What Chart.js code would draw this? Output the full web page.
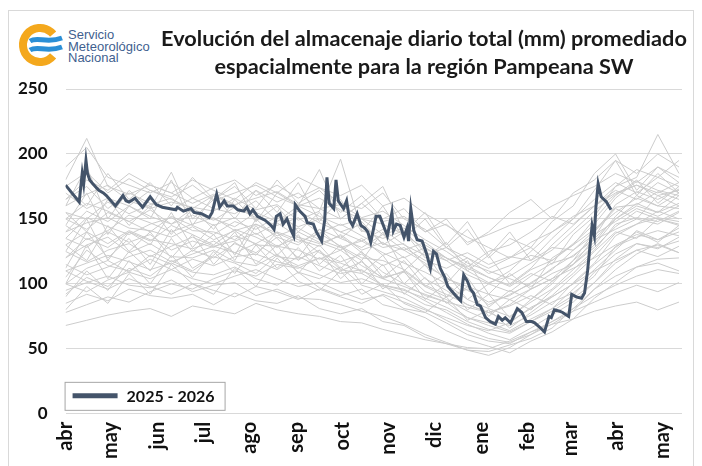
<!DOCTYPE html>
<html>
<head>
<meta charset="utf-8">
<script src="https://cdn.jsdelivr.net/npm/chart.js@4.4.1/dist/chart.umd.min.js"></script>
<style>
  body { margin: 0; width: 702px; height: 466px; overflow: hidden; background: #fff; position: relative; }
  #frame { position: absolute; left: 8px; top: 10px; width: 684px; height: 470px; border: 1px solid #d9d9d9; }
  #logo { position: absolute; left: 18px; top: 22px; }
  #logoText { position: absolute; left: 68px; top: 29px; font: 13px "Liberation Sans", Arial, sans-serif; line-height: 11.5px; color: #3f5f8f; }
  #title { position: absolute; left: 154px; width: 540px; top: 24px; text-align: center; font: bold 21.7px Lato, sans-serif; line-height: 28px; color: #1a1a1a; }
  #chart { position: absolute; left: 0; top: 0; }
</style>
</head>
<body>
<div id="frame"></div>
<canvas id="logo" width="48" height="46"></canvas>
<div id="logoText">Servicio<br>Meteorológico<br>Nacional</div>
<div id="title">Evolución del almacenaje diario total (mm) promediado<br>espacialmente para la región Pampeana SW</div>
<canvas id="chart" width="702" height="467"></canvas>
<script>
// x axis: days counted from 1 April
const monthLabels = ["abr", "may", "jun", "jul", "ago", "sep", "oct", "nov", "dic", "ene", "feb", "mar", "abr", "may"];
const monthStartDays = [0, 30, 61, 91, 122, 153, 183, 214, 244, 275, 306, 334, 365, 395];
const yTicks = [0, 50, 100, 150, 200, 250];

// current season
const currentLabel = "2025 - 2026";
const currentDays = [0, 9, 11, 12, 13.5, 14.5, 16, 18, 22, 25, 27, 33, 38, 40, 42, 46, 48, 51, 56, 60, 64, 73, 74, 78, 83, 85, 90, 95, 97, 100,
  102, 105, 107, 111, 114, 118, 120, 122, 124, 127, 132, 136, 138, 139.5, 142, 144, 146.5, 149, 151, 152, 155, 158.5, 160, 164, 166, 169.5, 171.5, 173, 174.5, 177.5,
  179, 180.5, 184, 186, 188, 190, 193, 195.5, 198, 200, 202, 205.5, 208, 211, 213, 216, 217, 219, 221.5, 224, 226, 227, 228.5, 230.5, 232.7, 236, 239, 241.5, 243.5, 245.5,
  248, 251, 253, 256, 259, 261.5, 263.5, 266, 268, 270, 272.5, 274.5, 278, 281, 284.5, 286.5, 289, 291, 294.5, 299, 302, 305, 308.5, 310.5, 313.5, 317, 320, 321.5, 323.5, 327,
  329, 333, 335, 338, 341.5, 343.5, 345.5, 347, 348.5, 350, 351, 352.5, 354.5, 358, 361];
const currentValues = [176, 163, 185, 177, 195, 185, 180, 177, 172, 170, 168, 160, 168, 164, 163, 166, 163, 159, 167, 161, 159, 157, 159, 156, 158, 155, 154, 151, 155, 169,
  159, 164, 160, 160, 157, 156, 159, 154, 157, 152, 149, 145, 142, 152, 154, 146, 150, 142, 137, 161, 156, 152, 147, 146, 140, 133, 149, 182, 162, 158,
  180, 164, 158, 164, 149, 145, 154, 145, 143, 140, 132, 152, 152, 143, 137, 155, 141, 146, 145, 136, 143, 133, 158, 141, 134, 133, 123, 112, 125, 123,
  112, 105, 98, 94, 90, 87, 107, 102, 96, 93, 84, 83, 74, 71, 69, 75, 72, 74, 70, 81, 78, 71, 71, 70, 67, 63, 75, 74, 80, 79,
  78, 75, 92, 90, 89, 93, 110, 128, 145, 137, 159, 177, 167, 163, 157];

// historical seasons (grey), sampled every 14 days
const histDays = [0, 14, 28, 42, 56, 70, 84, 98, 112, 126, 140, 154, 168, 182, 196, 210, 224, 238, 252, 266, 280, 294, 308, 322, 336, 350, 364, 378, 392, 406];
const h01 = [190, 205, 182, 176, 170, 178, 166, 174, 180, 168, 176, 166, 174, 162, 158, 170, 150, 142, 128, 120, 112, 120, 128, 115, 138, 152, 175, 182, 215, 185];
const h02 = [165, 175, 158, 170, 162, 157, 166, 158, 154, 164, 148, 156, 147, 140, 146, 131, 126, 116, 104, 98, 92, 88, 96, 104, 118, 132, 152, 168, 160, 158];
const h03 = [150, 162, 156, 148, 157, 146, 153, 145, 151, 138, 147, 136, 131, 137, 124, 114, 121, 104, 95, 84, 78, 83, 91, 84, 101, 116, 137, 146, 156, 150];
const h04 = [140, 147, 151, 143, 141, 136, 144, 134, 141, 130, 129, 136, 124, 117, 123, 109, 100, 91, 86, 74, 70, 64, 73, 81, 96, 111, 126, 141, 134, 143];
const h05 = [130, 140, 131, 141, 134, 131, 127, 133, 124, 131, 121, 119, 126, 111, 108, 99, 96, 87, 78, 69, 62, 57, 66, 76, 86, 101, 119, 131, 127, 136];
const h06 = [120, 130, 136, 124, 131, 121, 120, 126, 117, 114, 123, 109, 104, 113, 99, 94, 89, 81, 72, 64, 58, 55, 61, 69, 79, 96, 111, 123, 131, 124];
const h07 = [110, 116, 122, 117, 111, 116, 109, 107, 113, 104, 99, 109, 97, 91, 96, 84, 80, 74, 64, 57, 52, 47, 56, 63, 73, 89, 101, 113, 119, 120];
const h08 = [95, 101, 106, 99, 97, 103, 94, 99, 101, 91, 96, 89, 88, 84, 79, 75, 69, 61, 55, 49, 48, 53, 58, 66, 81, 91, 99, 106, 111, 108];
const h09 = [85, 92, 87, 96, 91, 89, 92, 84, 93, 87, 85, 91, 81, 77, 81, 71, 68, 59, 54, 49, 45, 51, 61, 71, 79, 86, 93, 99, 94, 101];
const h10 = [68, 72, 76, 79, 81, 75, 83, 80, 77, 85, 80, 77, 75, 71, 70, 65, 61, 57, 54, 51, 50, 56, 63, 69, 73, 79, 83, 86, 80, 86];
const h11 = [175, 186, 170, 181, 172, 167, 176, 164, 170, 176, 167, 160, 166, 157, 150, 146, 138, 127, 120, 110, 101, 106, 116, 126, 141, 156, 169, 176, 170, 178];
const h12 = [155, 150, 163, 154, 161, 166, 155, 149, 159, 151, 145, 151, 139, 146, 137, 128, 131, 114, 105, 95, 86, 91, 101, 111, 126, 141, 159, 161, 171, 165];
const h13 = [145, 134, 141, 153, 147, 140, 146, 151, 141, 146, 137, 143, 134, 128, 133, 124, 116, 109, 100, 88, 81, 75, 86, 96, 111, 126, 146, 151, 148, 156];
const h14 = [125, 117, 126, 131, 121, 129, 136, 129, 133, 139, 129, 126, 119, 126, 114, 105, 109, 94, 88, 79, 72, 68, 76, 86, 93, 106, 129, 136, 141, 137];
const h15 = [105, 126, 114, 110, 119, 111, 119, 114, 121, 123, 117, 113, 107, 101, 104, 98, 93, 84, 80, 71, 65, 62, 71, 79, 89, 101, 116, 126, 121, 129];
const h16 = [160, 169, 176, 164, 158, 163, 159, 156, 166, 157, 161, 149, 156, 196, 141, 135, 141, 124, 118, 107, 100, 94, 106, 116, 121, 136, 161, 171, 165, 173];
const h17 = [135, 151, 144, 138, 146, 151, 141, 140, 134, 146, 139, 132, 139, 129, 120, 118, 111, 99, 92, 84, 78, 71, 81, 91, 106, 121, 139, 146, 151, 148];
const h18 = [115, 107, 113, 121, 126, 117, 123, 129, 124, 118, 111, 121, 114, 108, 111, 99, 95, 89, 82, 74, 68, 63, 71, 81, 91, 109, 123, 131, 128, 133];
const h19 = [180, 212, 175, 169, 176, 170, 162, 169, 161, 166, 171, 161, 158, 161, 151, 156, 145, 134, 125, 114, 105, 99, 111, 118, 131, 146, 166, 179, 172, 168];
const h20 = [100, 94, 103, 109, 104, 111, 104, 100, 106, 111, 104, 98, 101, 94, 88, 91, 81, 78, 70, 61, 56, 54, 63, 71, 81, 96, 106, 113, 116, 110];
const h21 = [135, 128, 140, 132, 138, 126, 133, 128, 137, 131, 140, 134, 129, 138, 126, 132, 120, 128, 118, 124, 115, 121, 118, 128, 126, 138, 148, 158, 152, 160];
const h22 = [120, 135, 128, 140, 133, 145, 138, 130, 142, 136, 128, 140, 132, 126, 135, 122, 128, 118, 112, 120, 108, 114, 122, 118, 130, 142, 155, 166, 160, 170];
const h23 = [100, 112, 118, 109, 122, 115, 126, 120, 131, 124, 136, 130, 142, 135, 128, 138, 126, 132, 120, 113, 125, 130, 140, 152, 146, 160, 170, 176, 168, 172];
const h24 = [170, 158, 166, 160, 172, 165, 158, 168, 160, 172, 163, 170, 158, 150, 162, 148, 152, 140, 146, 132, 138, 145, 150, 160, 168, 175, 185, 178, 190, 182];
const h25 = [92, 105, 98, 112, 106, 118, 110, 121, 116, 108, 122, 114, 120, 110, 117, 104, 110, 98, 90, 96, 84, 92, 100, 112, 122, 134, 142, 150, 146, 155];
const h26 = [150, 142, 155, 148, 140, 152, 145, 138, 148, 142, 152, 144, 150, 140, 133, 142, 130, 122, 128, 116, 110, 104, 98, 108, 115, 128, 144, 156, 150, 146];
const h27 = [78, 84, 90, 86, 94, 100, 96, 104, 110, 106, 115, 112, 120, 116, 110, 104, 98, 92, 86, 82, 78, 84, 96, 104, 112, 120, 130, 138, 134, 140];
const h28 = [165, 180, 172, 185, 176, 170, 180, 172, 165, 178, 170, 182, 174, 168, 176, 160, 166, 154, 145, 136, 128, 120, 132, 140, 152, 160, 175, 188, 182, 195];
const h29 = [110, 102, 96, 104, 98, 92, 100, 95, 90, 98, 94, 88, 96, 90, 85, 92, 86, 80, 74, 68, 64, 70, 82, 90, 100, 110, 118, 126, 130, 124];
const h30 = [140, 156, 148, 160, 152, 146, 158, 150, 144, 155, 148, 160, 152, 145, 150, 138, 143, 130, 120, 112, 105, 98, 108, 102, 115, 130, 150, 160, 155, 162];
const h31 = [160, 190, 150, 172, 158, 186, 150, 165, 178, 148, 170, 160, 188, 150, 162, 175, 140, 155, 130, 148, 122, 140, 118, 135, 150, 172, 195, 168, 185, 170];
const h32 = [125, 150, 118, 140, 130, 155, 128, 146, 122, 150, 135, 120, 142, 128, 118, 140, 110, 125, 100, 118, 92, 108, 96, 120, 130, 150, 168, 180, 162, 175];
const h33 = [100, 130, 104, 125, 110, 135, 112, 122, 140, 115, 130, 108, 126, 104, 118, 96, 110, 88, 100, 80, 92, 74, 88, 100, 118, 140, 158, 150, 168, 160];
const h34 = [145, 170, 138, 160, 150, 180, 145, 168, 150, 172, 155, 178, 148, 165, 140, 160, 135, 150, 128, 142, 120, 135, 128, 148, 160, 185, 200, 172, 190, 178];
const h35 = [80, 98, 85, 108, 92, 115, 100, 92, 112, 98, 120, 102, 95, 110, 92, 100, 85, 78, 90, 72, 80, 66, 78, 90, 100, 115, 128, 140, 132, 145];
const h36 = [175, 160, 185, 165, 178, 160, 182, 165, 175, 158, 180, 162, 172, 155, 168, 150, 158, 140, 150, 130, 140, 155, 165, 150, 170, 180, 195, 185, 200, 190];
const h37 = [130, 118, 145, 125, 140, 120, 138, 115, 132, 122, 140, 118, 130, 112, 125, 105, 118, 98, 108, 88, 100, 110, 125, 140, 150, 165, 178, 170, 182, 175];
const h38 = [112, 140, 120, 135, 115, 142, 125, 138, 118, 145, 122, 138, 115, 130, 108, 122, 100, 115, 90, 105, 82, 95, 88, 102, 115, 135, 150, 162, 155, 168];
const h39 = [155, 140, 165, 145, 160, 138, 158, 142, 165, 148, 160, 140, 155, 135, 148, 130, 140, 120, 132, 110, 122, 100, 112, 130, 145, 160, 172, 165, 178, 170];
const h40 = [90, 110, 95, 118, 100, 122, 105, 125, 108, 130, 112, 128, 110, 122, 100, 115, 92, 105, 85, 98, 75, 88, 80, 95, 108, 125, 140, 135, 150, 145];
const historical = [h01, h02, h03, h04, h05, h06, h07, h08, h09, h10, h11, h12, h13, h14, h15, h16, h17, h18, h19, h20,
  h21, h22, h23, h24, h25, h26, h27, h28, h29, h30, h31, h32, h33, h34, h35, h36, h37, h38, h39, h40];

// logo
(function drawLogo() {
  const c = document.getElementById("logo").getContext("2d");
  c.lineWidth = 8;
  c.strokeStyle = "#f4a81d";
  c.beginPath();
  c.arc(22, 23, 17, Math.PI * 0.22, Math.PI * 1.78);
  c.stroke();
  c.strokeStyle = "#2b8fd6";
  c.lineWidth = 5;
  [18, 27].forEach(y => {
    c.beginPath();
    c.moveTo(12, y + 1);
    c.bezierCurveTo(20, y - 4, 28, y + 4, 44, y - 2);
    c.stroke();
  });
})();

const toPoints = (days, vals) => days.map((d, i) => ({ x: d, y: vals[i] }));

const datasets = [{
  label: currentLabel,
  data: toPoints(currentDays, currentValues),
  borderColor: "#44546a",
  borderWidth: 3,
  pointRadius: 0,
  tension: 0,
  order: 0
}].concat(historical.map((vals, i) => ({
  label: "h" + (i + 1),
  data: toPoints(histDays, vals),
  borderColor: "#cccccc",
  borderWidth: 1,
  pointRadius: 0,
  tension: 0,
  order: 1
})));

const legendBox = {
  id: "legendBox",
  afterDatasetsDraw(chart) {
    const { ctx, chartArea } = chart;
    const ds = chart.data.datasets[0];
    const x = chartArea.left - 1, y = chartArea.bottom - 32, w = 160, h = 28;
    ctx.save();
    ctx.fillStyle = "#fff";
    ctx.fillRect(x, y, w, h);
    ctx.strokeStyle = "#a6a6a6";
    ctx.lineWidth = 1;
    ctx.strokeRect(x + 0.5, y + 0.5, w, h);
    ctx.strokeStyle = ds.borderColor;
    ctx.lineWidth = 5;
    ctx.beginPath();
    ctx.moveTo(x + 8, y + h / 2);
    ctx.lineTo(x + 53, y + h / 2);
    ctx.stroke();
    ctx.fillStyle = "#111";
    ctx.font = "bold 16px Lato";
    ctx.textBaseline = "middle";
    ctx.fillText(ds.label, x + 62, y + h / 2 + 1);
    ctx.restore();
  }
};

new Chart(document.getElementById("chart"), {
  type: "line",
  data: { datasets },
  options: {
    responsive: false,
    animation: false,
    layout: { padding: { left: 0, right: 20, top: 89, bottom: 0 } },
    plugins: { legend: { display: false }, title: { display: false }, tooltip: { enabled: false } },
    scales: {
      x: {
        type: "linear",
        min: 0,
        max: 408,
        afterBuildTicks: axis => { axis.ticks = monthStartDays.map(v => ({ value: v })); },
        ticks: {
          callback: (v, i) => monthLabels[i],
          minRotation: 90,
          maxRotation: 90,
          padding: 8,
          color: "#111",
          font: { family: "Lato", size: 20, weight: "bold" }
        },
        grid: { display: false, drawTicks: false },
        border: { display: false }
      },
      y: {
        min: 0,
        max: 250,
        afterBuildTicks: axis => { axis.ticks = yTicks.map(v => ({ value: v })); },
        ticks: {
          padding: 18,
          color: "#111",
          font: { family: "Lato", size: 17, weight: "bold" }
        },
        grid: { color: "#d9d9d9", lineWidth: 1, drawTicks: false },
        border: { display: false }
      }
    }
  },
  plugins: [legendBox]
});
</script>
</body>
</html>
